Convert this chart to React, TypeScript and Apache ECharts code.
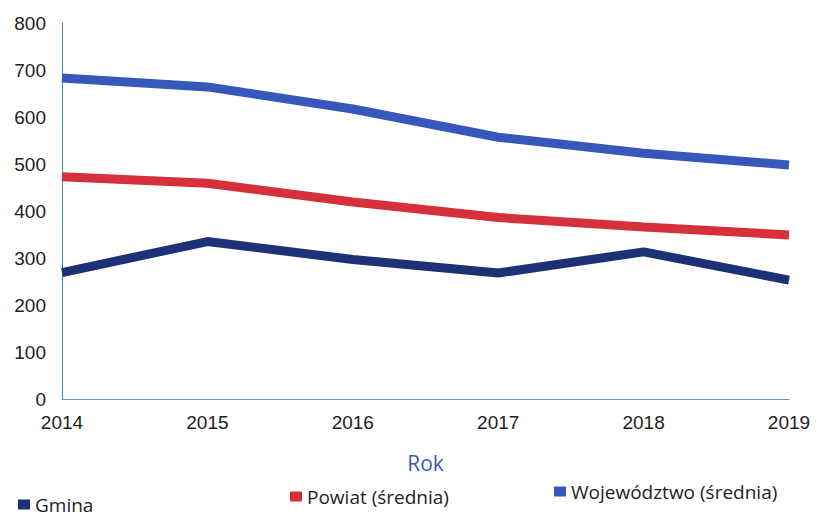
import React, { useEffect, useRef } from "react";
import * as echarts from "echarts";

const years = ["2014", "2015", "2016", "2017", "2018", "2019"];
const gmina = [269, 335, 297, 268, 313, 253];
const powiat = [473, 459, 419, 386, 366, 349];
const wojewodztwo = [683, 664, 617, 557, 523, 498];
const yTicks = { min: 0, max: 800, interval: 100 };

const C_GMINA = "#1d3275";
const C_POWIAT = "#d6303b";
const C_WOJ = "#3758bb";

export default function App() {
  const ref = useRef<HTMLDivElement>(null);
  useEffect(() => {
    if (!ref.current) return;
    const chart = echarts.init(ref.current, null, { renderer: "svg" });
    const font = "'Liberation Sans', Arial, sans-serif";
    const legendText = { fontSize: 19, color: "#222", fontFamily: "'Open Sans', sans-serif" };
    chart.setOption({
      animation: false,
      backgroundColor: "#ffffff",
      grid: { left: 62, right: 28, top: 23, bottom: 123 },
      legend: [
        { data: ["Gmina"], left: 16, top: 493, padding: 2, itemWidth: 12, itemHeight: 10, icon: "rect", textStyle: legendText, itemGap: 6 },
        { data: ["Powiat (średnia)"], left: 288, top: 485, padding: 2, itemWidth: 12, itemHeight: 10, icon: "rect", textStyle: legendText },
        { data: ["Województwo (średnia)"], left: 552, top: 480, padding: 2, itemWidth: 12, itemHeight: 10, icon: "rect", textStyle: legendText },
      ],
      xAxis: {
        type: "category",
        data: years,
        boundaryGap: false,
        name: "Rok",
        nameLocation: "middle",
        nameGap: 53,
        nameTextStyle: { color: "#3b5cb8", fontSize: 21, fontFamily: "'Open Sans', sans-serif" },
        axisLine: { lineStyle: { color: "#6a8fcf", width: 1 } },
        axisTick: { show: false },
        axisLabel: { color: "#222", fontSize: 19, fontFamily: font, margin: 14 },
      },
      yAxis: {
        type: "value",
        min: yTicks.min,
        max: yTicks.max,
        interval: yTicks.interval,
        axisLine: { show: true, lineStyle: { color: "#4a7ad6", width: 1 } },
        axisTick: { show: false },
        splitLine: { show: false },
        axisLabel: { color: "#222", fontSize: 19, fontFamily: font, margin: 16 },
      },
      series: [
        { name: "Gmina", type: "line", data: gmina, symbol: "none", lineStyle: { color: C_GMINA, width: 9 }, itemStyle: { color: C_GMINA } },
        { name: "Powiat (średnia)", type: "line", data: powiat, symbol: "none", lineStyle: { color: C_POWIAT, width: 9 }, itemStyle: { color: C_POWIAT } },
        { name: "Województwo (średnia)", type: "line", data: wojewodztwo, symbol: "none", lineStyle: { color: C_WOJ, width: 9 }, itemStyle: { color: C_WOJ } },
      ],
    });
    return () => chart.dispose();
  }, []);
  return <div ref={ref} style={{ width: 817, height: 522, position: "absolute", left: 0, top: 0 }} />;
}
